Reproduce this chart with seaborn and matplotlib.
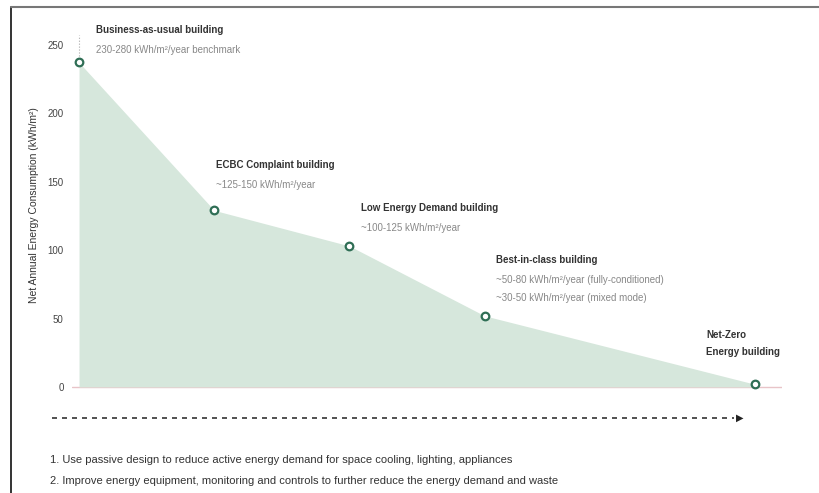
import numpy as np
import pandas as pd
import matplotlib
matplotlib.use("Agg")
import matplotlib.pyplot as plt
import seaborn as sns
from matplotlib.lines import Line2D

sns.set_style("white")
plt.rcParams["font.family"] = ["Liberation Sans", "DejaVu Sans"]

# data
stage = [0, 1, 2, 3, 5]
energy = [237, 129, 103, 52, 2]
titles = ["Business-as-usual building", "ECBC Complaint building",
          "Low Energy Demand building", "Best-in-class building",
          "Net-Zero\nEnergy building"]
ranges = ["230-280 kWh/m²/year benchmark", "~125-150 kWh/m²/year",
          "~100-125 kWh/m²/year",
          "~50-80 kWh/m²/year (fully-conditioned)\n~30-50 kWh/m²/year (mixed mode)",
          ""]
yticks = [0, 50, 100, 150, 200, 250]
notes = ["1. Use passive design to reduce active energy demand for space cooling, lighting, appliances",
         "2. Improve energy equipment, monitoring and controls to further reduce the energy demand and waste"]

df = pd.DataFrame({"stage": stage, "energy": energy})

fill_col = "#d6e7dc"
mark_col = "#2f6e55"

fig = plt.figure(figsize=(8.2, 4.93), dpi=100)
ax = fig.add_axes([72 / 820, 103 / 493, 710 / 820, 370 / 493])

ax.fill_between(df["stage"], df["energy"], 0, color=fill_col, lw=0, zorder=1)
ax.axhline(0, color="#e8c4c8", lw=1, zorder=0)
sns.scatterplot(data=df, x="stage", y="energy", ax=ax, s=30, marker="o",
                facecolor="white", edgecolor=mark_col, linewidth=1.6, zorder=3)

# leader line above first point
ax.plot([stage[0], stage[0]], [energy[0] + 5, energy[0] + 20], color="#aaaaaa",
        lw=0.8, ls=":", zorder=2)

ax.set_xlim(-0.052, 5.2)
ax.set_ylim(-2.2, 268)
ax.set_yticks(yticks)
ax.set_xticks([])
ax.tick_params(axis="y", length=0, labelsize=7, labelcolor="#444444", pad=6)
ax.set_xlabel("")
ax.set_ylabel("Net Annual Energy Consumption (kWh/m²)", fontsize=7.5, color="#333333",
              labelpad=6)
for s in ax.spines.values():
    s.set_visible(False)

# annotations
offsets = [(12, 27), (1.5, 36), (8, 31), (8, 44), (-35, 39)]
for xs, ys, t, r, (dx, dy) in zip(stage, energy, titles, ranges, offsets):
    ax.annotate(t, (xs, ys), xytext=(dx, dy), textcoords="offset points",
                fontsize=7, fontweight="bold", color="#333333", va="top",
                linespacing=1.9)
    if r:
        ax.annotate(r, (xs, ys), xytext=(dx, dy - 14.5), textcoords="offset points",
                    fontsize=7, color="#888888", va="top", linespacing=2.0)

# dashed arrow
fig.add_artist(Line2D([52 / 820, 734 / 820], [1 - 418 / 493, 1 - 418 / 493],
                      color="#333333", lw=1.2, ls=(0, (3, 3))))
fig.text(740 / 820, 1 - 418 / 493, "\u25B6", fontsize=7, color="#222222",
         ha="center", va="center", family="DejaVu Sans")

fig.text(50 / 820, 1 - 460 / 493, notes[0], fontsize=8, color="#333333", va="center")
fig.text(50 / 820, 1 - 481 / 493, notes[1], fontsize=8, color="#333333", va="center")

# frame lines
fig.add_artist(Line2D([11 / 820, 11 / 820], [0, 1 - 7 / 493], color="#111111", lw=1.2))
fig.add_artist(Line2D([11 / 820, 1], [1 - 7 / 493, 1 - 7 / 493], color="#777777", lw=1.5))

fig.savefig("out.png", dpi=100)
